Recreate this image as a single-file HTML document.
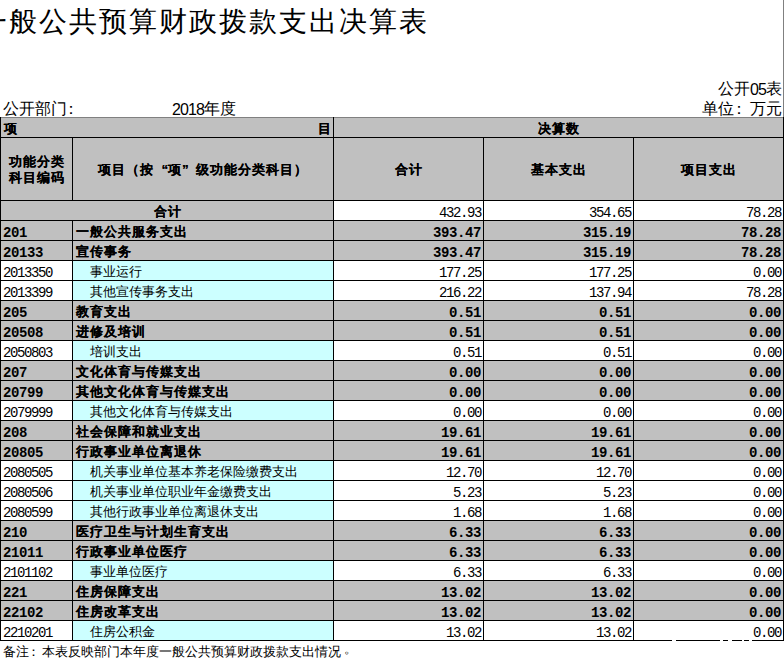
<!DOCTYPE html>
<html><head><meta charset="utf-8"><style>
html,body{margin:0;padding:0;background:#fff;}
body{width:784px;height:661px;position:relative;overflow:hidden;font-family:"Liberation Sans",sans-serif;color:#000}
.b{position:absolute}
.t{position:absolute;white-space:nowrap;overflow:visible}
.bh{font-size:13px;font-weight:bold;letter-spacing:1px;text-shadow:0.25px 0 0 #000}
.rh{font-size:13px}
.q1{display:inline-block;width:14px;text-align:right;letter-spacing:0}
.q2{display:inline-block;width:14px;text-align:left;letter-spacing:0}
.num,.cr{font-family:"Liberation Mono",monospace;font-size:14px;letter-spacing:-1.4px}
.numb,.cb{font-family:"Liberation Mono",monospace;font-size:14px;font-weight:bold;letter-spacing:-0.4px}
.title{position:absolute;left:-21px;top:4px;font-size:28px;letter-spacing:2px;line-height:36px;white-space:nowrap}
.d16{letter-spacing:-0.9px;position:relative;top:1px}
.c16{position:relative;left:-3px}
.h16{position:absolute;font-size:16px;line-height:18px;white-space:nowrap}
</style></head><body>
<div class="title">一般公共预算财政拨款支出决算表</div>
<div class="h16" style="right:2px;top:80px">公开<span class="d16">05</span>表</div>
<div class="h16" style="right:2px;top:100px">单位<span class="c16">：</span>万元</div>
<div class="h16" style="left:3px;top:100px">公开部门<span style="position:relative;left:-4px">：</span></div>
<div class="h16" style="left:172px;top:100px"><span class="d16">2018</span>年度</div>
<div class="b" style="left:0px;top:117px;width:784px;height:83px;background:#c0c0c0"></div>
<div class="b" style="left:0px;top:200px;width:333px;height:20px;background:#c0c0c0"></div>
<div class="b" style="left:0px;top:220px;width:784px;height:20px;background:#c0c0c0"></div>
<div class="b" style="left:0px;top:240px;width:784px;height:20px;background:#c0c0c0"></div>
<div class="b" style="left:72px;top:260px;width:261px;height:20px;background:#ccffff"></div>
<div class="b" style="left:72px;top:280px;width:261px;height:20px;background:#ccffff"></div>
<div class="b" style="left:0px;top:300px;width:784px;height:20px;background:#c0c0c0"></div>
<div class="b" style="left:0px;top:320px;width:784px;height:20px;background:#c0c0c0"></div>
<div class="b" style="left:72px;top:340px;width:261px;height:20px;background:#ccffff"></div>
<div class="b" style="left:0px;top:360px;width:784px;height:20px;background:#c0c0c0"></div>
<div class="b" style="left:0px;top:380px;width:784px;height:20px;background:#c0c0c0"></div>
<div class="b" style="left:72px;top:400px;width:261px;height:20px;background:#ccffff"></div>
<div class="b" style="left:0px;top:420px;width:784px;height:20px;background:#c0c0c0"></div>
<div class="b" style="left:0px;top:440px;width:784px;height:20px;background:#c0c0c0"></div>
<div class="b" style="left:72px;top:460px;width:261px;height:20px;background:#ccffff"></div>
<div class="b" style="left:72px;top:480px;width:261px;height:20px;background:#ccffff"></div>
<div class="b" style="left:72px;top:500px;width:261px;height:20px;background:#ccffff"></div>
<div class="b" style="left:0px;top:520px;width:784px;height:20px;background:#c0c0c0"></div>
<div class="b" style="left:0px;top:540px;width:784px;height:20px;background:#c0c0c0"></div>
<div class="b" style="left:72px;top:560px;width:261px;height:20px;background:#ccffff"></div>
<div class="b" style="left:0px;top:580px;width:784px;height:20px;background:#c0c0c0"></div>
<div class="b" style="left:0px;top:600px;width:784px;height:20px;background:#c0c0c0"></div>
<div class="b" style="left:72px;top:620px;width:261px;height:20px;background:#ccffff"></div>
<div class="b" style="left:0px;top:117px;width:784px;height:1px;background:#808080"></div>
<div class="b" style="left:783px;top:0px;width:1px;height:117px;background:#808080"></div>
<div class="b" style="left:0px;top:137px;width:784px;height:1px;background:#000"></div>
<div class="b" style="left:0px;top:200px;width:784px;height:1px;background:#000"></div>
<div class="b" style="left:0px;top:220px;width:784px;height:1px;background:#000"></div>
<div class="b" style="left:0px;top:240px;width:784px;height:1px;background:#000"></div>
<div class="b" style="left:0px;top:260px;width:784px;height:1px;background:#000"></div>
<div class="b" style="left:0px;top:280px;width:784px;height:1px;background:#000"></div>
<div class="b" style="left:0px;top:300px;width:784px;height:1px;background:#000"></div>
<div class="b" style="left:0px;top:320px;width:784px;height:1px;background:#000"></div>
<div class="b" style="left:0px;top:340px;width:784px;height:1px;background:#000"></div>
<div class="b" style="left:0px;top:360px;width:784px;height:1px;background:#000"></div>
<div class="b" style="left:0px;top:380px;width:784px;height:1px;background:#000"></div>
<div class="b" style="left:0px;top:400px;width:784px;height:1px;background:#000"></div>
<div class="b" style="left:0px;top:420px;width:784px;height:1px;background:#000"></div>
<div class="b" style="left:0px;top:440px;width:784px;height:1px;background:#000"></div>
<div class="b" style="left:0px;top:460px;width:784px;height:1px;background:#000"></div>
<div class="b" style="left:0px;top:480px;width:784px;height:1px;background:#000"></div>
<div class="b" style="left:0px;top:500px;width:784px;height:1px;background:#000"></div>
<div class="b" style="left:0px;top:520px;width:784px;height:1px;background:#000"></div>
<div class="b" style="left:0px;top:540px;width:784px;height:1px;background:#000"></div>
<div class="b" style="left:0px;top:560px;width:784px;height:1px;background:#000"></div>
<div class="b" style="left:0px;top:580px;width:784px;height:1px;background:#000"></div>
<div class="b" style="left:0px;top:600px;width:784px;height:1px;background:#000"></div>
<div class="b" style="left:0px;top:620px;width:784px;height:1px;background:#000"></div>
<div class="b" style="left:0px;top:640px;width:784px;height:1px;background:#000"></div>
<div class="b" style="left:0px;top:117px;width:1px;height:524px;background:#000"></div>
<div class="b" style="left:783px;top:117px;width:1px;height:524px;background:#000"></div>
<div class="b" style="left:333px;top:117px;width:1px;height:524px;background:#000"></div>
<div class="b" style="left:72px;top:137px;width:1px;height:63px;background:#000"></div>
<div class="b" style="left:72px;top:220px;width:1px;height:20px;background:#000"></div>
<div class="b" style="left:72px;top:240px;width:1px;height:20px;background:#000"></div>
<div class="b" style="left:72px;top:260px;width:1px;height:20px;background:#000"></div>
<div class="b" style="left:72px;top:280px;width:1px;height:20px;background:#000"></div>
<div class="b" style="left:72px;top:300px;width:1px;height:20px;background:#000"></div>
<div class="b" style="left:72px;top:320px;width:1px;height:20px;background:#000"></div>
<div class="b" style="left:72px;top:340px;width:1px;height:20px;background:#000"></div>
<div class="b" style="left:72px;top:360px;width:1px;height:20px;background:#000"></div>
<div class="b" style="left:72px;top:380px;width:1px;height:20px;background:#000"></div>
<div class="b" style="left:72px;top:400px;width:1px;height:20px;background:#000"></div>
<div class="b" style="left:72px;top:420px;width:1px;height:20px;background:#000"></div>
<div class="b" style="left:72px;top:440px;width:1px;height:20px;background:#000"></div>
<div class="b" style="left:72px;top:460px;width:1px;height:20px;background:#000"></div>
<div class="b" style="left:72px;top:480px;width:1px;height:20px;background:#000"></div>
<div class="b" style="left:72px;top:500px;width:1px;height:20px;background:#000"></div>
<div class="b" style="left:72px;top:520px;width:1px;height:20px;background:#000"></div>
<div class="b" style="left:72px;top:540px;width:1px;height:20px;background:#000"></div>
<div class="b" style="left:72px;top:560px;width:1px;height:20px;background:#000"></div>
<div class="b" style="left:72px;top:580px;width:1px;height:20px;background:#000"></div>
<div class="b" style="left:72px;top:600px;width:1px;height:20px;background:#000"></div>
<div class="b" style="left:72px;top:620px;width:1px;height:20px;background:#000"></div>
<div class="b" style="left:483px;top:137px;width:1px;height:504px;background:#000"></div>
<div class="b" style="left:633px;top:137px;width:1px;height:504px;background:#000"></div>
<div class="t bh" style="left:4px;top:119px;width:60px;height:19px;line-height:19px;text-align:left">项</div>
<div class="t bh" style="left:260px;top:119px;width:72px;height:19px;line-height:19px;text-align:right">目</div>
<div class="t bh" style="left:334px;top:119px;width:449px;height:19px;line-height:19px;text-align:center">决算数</div>
<div class="t bh" style="left:1px;top:154px;width:72px;line-height:16px;text-align:center">功能分类<br>科目编码</div>
<div class="t bh" style="left:73px;top:139px;width:260px;height:62px;line-height:62px;text-align:center">项目（按<span class="q1">“</span>项<span class="q2">”</span>级功能分类科目）</div>
<div class="t bh" style="left:334px;top:139px;width:149px;height:62px;line-height:62px;text-align:center">合计</div>
<div class="t bh" style="left:484px;top:139px;width:149px;height:62px;line-height:62px;text-align:center">基本支出</div>
<div class="t bh" style="left:634px;top:139px;width:149px;height:62px;line-height:62px;text-align:center">项目支出</div>
<div class="t bh" style="left:1px;top:202px;width:333px;height:19px;line-height:19px;text-align:center">合计</div>
<div class="t num" style="left:334px;top:204px;width:147px;height:19px;line-height:19px;text-align:right">432.93</div>
<div class="t num" style="left:484px;top:204px;width:147px;height:19px;line-height:19px;text-align:right">354.65</div>
<div class="t num" style="left:634px;top:204px;width:147px;height:19px;line-height:19px;text-align:right">78.28</div>
<div class="t cb" style="left:3px;top:224px;width:69px;height:19px;line-height:19px;text-align:left">201</div>
<div class="t bh" style="left:76px;top:222px;width:257px;height:19px;line-height:19px;text-align:left">一般公共服务支出</div>
<div class="t numb" style="left:334px;top:224px;width:147px;height:19px;line-height:19px;text-align:right">393.47</div>
<div class="t numb" style="left:484px;top:224px;width:147px;height:19px;line-height:19px;text-align:right">315.19</div>
<div class="t numb" style="left:634px;top:224px;width:147px;height:19px;line-height:19px;text-align:right">78.28</div>
<div class="t cb" style="left:3px;top:244px;width:69px;height:19px;line-height:19px;text-align:left">20133</div>
<div class="t bh" style="left:76px;top:242px;width:257px;height:19px;line-height:19px;text-align:left">宣传事务</div>
<div class="t numb" style="left:334px;top:244px;width:147px;height:19px;line-height:19px;text-align:right">393.47</div>
<div class="t numb" style="left:484px;top:244px;width:147px;height:19px;line-height:19px;text-align:right">315.19</div>
<div class="t numb" style="left:634px;top:244px;width:147px;height:19px;line-height:19px;text-align:right">78.28</div>
<div class="t cr" style="left:3px;top:264px;width:69px;height:19px;line-height:19px;text-align:left">2013350</div>
<div class="t rh" style="left:77px;top:262px;width:257px;height:19px;line-height:19px;text-align:left">　事业运行</div>
<div class="t num" style="left:334px;top:264px;width:147px;height:19px;line-height:19px;text-align:right">177.25</div>
<div class="t num" style="left:484px;top:264px;width:147px;height:19px;line-height:19px;text-align:right">177.25</div>
<div class="t num" style="left:634px;top:264px;width:147px;height:19px;line-height:19px;text-align:right">0.00</div>
<div class="t cr" style="left:3px;top:284px;width:69px;height:19px;line-height:19px;text-align:left">2013399</div>
<div class="t rh" style="left:77px;top:282px;width:257px;height:19px;line-height:19px;text-align:left">　其他宣传事务支出</div>
<div class="t num" style="left:334px;top:284px;width:147px;height:19px;line-height:19px;text-align:right">216.22</div>
<div class="t num" style="left:484px;top:284px;width:147px;height:19px;line-height:19px;text-align:right">137.94</div>
<div class="t num" style="left:634px;top:284px;width:147px;height:19px;line-height:19px;text-align:right">78.28</div>
<div class="t cb" style="left:3px;top:304px;width:69px;height:19px;line-height:19px;text-align:left">205</div>
<div class="t bh" style="left:76px;top:302px;width:257px;height:19px;line-height:19px;text-align:left">教育支出</div>
<div class="t numb" style="left:334px;top:304px;width:147px;height:19px;line-height:19px;text-align:right">0.51</div>
<div class="t numb" style="left:484px;top:304px;width:147px;height:19px;line-height:19px;text-align:right">0.51</div>
<div class="t numb" style="left:634px;top:304px;width:147px;height:19px;line-height:19px;text-align:right">0.00</div>
<div class="t cb" style="left:3px;top:324px;width:69px;height:19px;line-height:19px;text-align:left">20508</div>
<div class="t bh" style="left:76px;top:322px;width:257px;height:19px;line-height:19px;text-align:left">进修及培训</div>
<div class="t numb" style="left:334px;top:324px;width:147px;height:19px;line-height:19px;text-align:right">0.51</div>
<div class="t numb" style="left:484px;top:324px;width:147px;height:19px;line-height:19px;text-align:right">0.51</div>
<div class="t numb" style="left:634px;top:324px;width:147px;height:19px;line-height:19px;text-align:right">0.00</div>
<div class="t cr" style="left:3px;top:344px;width:69px;height:19px;line-height:19px;text-align:left">2050803</div>
<div class="t rh" style="left:77px;top:342px;width:257px;height:19px;line-height:19px;text-align:left">　培训支出</div>
<div class="t num" style="left:334px;top:344px;width:147px;height:19px;line-height:19px;text-align:right">0.51</div>
<div class="t num" style="left:484px;top:344px;width:147px;height:19px;line-height:19px;text-align:right">0.51</div>
<div class="t num" style="left:634px;top:344px;width:147px;height:19px;line-height:19px;text-align:right">0.00</div>
<div class="t cb" style="left:3px;top:364px;width:69px;height:19px;line-height:19px;text-align:left">207</div>
<div class="t bh" style="left:76px;top:362px;width:257px;height:19px;line-height:19px;text-align:left">文化体育与传媒支出</div>
<div class="t numb" style="left:334px;top:364px;width:147px;height:19px;line-height:19px;text-align:right">0.00</div>
<div class="t numb" style="left:484px;top:364px;width:147px;height:19px;line-height:19px;text-align:right">0.00</div>
<div class="t numb" style="left:634px;top:364px;width:147px;height:19px;line-height:19px;text-align:right">0.00</div>
<div class="t cb" style="left:3px;top:384px;width:69px;height:19px;line-height:19px;text-align:left">20799</div>
<div class="t bh" style="left:76px;top:382px;width:257px;height:19px;line-height:19px;text-align:left">其他文化体育与传媒支出</div>
<div class="t numb" style="left:334px;top:384px;width:147px;height:19px;line-height:19px;text-align:right">0.00</div>
<div class="t numb" style="left:484px;top:384px;width:147px;height:19px;line-height:19px;text-align:right">0.00</div>
<div class="t numb" style="left:634px;top:384px;width:147px;height:19px;line-height:19px;text-align:right">0.00</div>
<div class="t cr" style="left:3px;top:404px;width:69px;height:19px;line-height:19px;text-align:left">2079999</div>
<div class="t rh" style="left:77px;top:402px;width:257px;height:19px;line-height:19px;text-align:left">　其他文化体育与传媒支出</div>
<div class="t num" style="left:334px;top:404px;width:147px;height:19px;line-height:19px;text-align:right">0.00</div>
<div class="t num" style="left:484px;top:404px;width:147px;height:19px;line-height:19px;text-align:right">0.00</div>
<div class="t num" style="left:634px;top:404px;width:147px;height:19px;line-height:19px;text-align:right">0.00</div>
<div class="t cb" style="left:3px;top:424px;width:69px;height:19px;line-height:19px;text-align:left">208</div>
<div class="t bh" style="left:76px;top:422px;width:257px;height:19px;line-height:19px;text-align:left">社会保障和就业支出</div>
<div class="t numb" style="left:334px;top:424px;width:147px;height:19px;line-height:19px;text-align:right">19.61</div>
<div class="t numb" style="left:484px;top:424px;width:147px;height:19px;line-height:19px;text-align:right">19.61</div>
<div class="t numb" style="left:634px;top:424px;width:147px;height:19px;line-height:19px;text-align:right">0.00</div>
<div class="t cb" style="left:3px;top:444px;width:69px;height:19px;line-height:19px;text-align:left">20805</div>
<div class="t bh" style="left:76px;top:442px;width:257px;height:19px;line-height:19px;text-align:left">行政事业单位离退休</div>
<div class="t numb" style="left:334px;top:444px;width:147px;height:19px;line-height:19px;text-align:right">19.61</div>
<div class="t numb" style="left:484px;top:444px;width:147px;height:19px;line-height:19px;text-align:right">19.61</div>
<div class="t numb" style="left:634px;top:444px;width:147px;height:19px;line-height:19px;text-align:right">0.00</div>
<div class="t cr" style="left:3px;top:464px;width:69px;height:19px;line-height:19px;text-align:left">2080505</div>
<div class="t rh" style="left:77px;top:462px;width:257px;height:19px;line-height:19px;text-align:left">　机关事业单位基本养老保险缴费支出</div>
<div class="t num" style="left:334px;top:464px;width:147px;height:19px;line-height:19px;text-align:right">12.70</div>
<div class="t num" style="left:484px;top:464px;width:147px;height:19px;line-height:19px;text-align:right">12.70</div>
<div class="t num" style="left:634px;top:464px;width:147px;height:19px;line-height:19px;text-align:right">0.00</div>
<div class="t cr" style="left:3px;top:484px;width:69px;height:19px;line-height:19px;text-align:left">2080506</div>
<div class="t rh" style="left:77px;top:482px;width:257px;height:19px;line-height:19px;text-align:left">　机关事业单位职业年金缴费支出</div>
<div class="t num" style="left:334px;top:484px;width:147px;height:19px;line-height:19px;text-align:right">5.23</div>
<div class="t num" style="left:484px;top:484px;width:147px;height:19px;line-height:19px;text-align:right">5.23</div>
<div class="t num" style="left:634px;top:484px;width:147px;height:19px;line-height:19px;text-align:right">0.00</div>
<div class="t cr" style="left:3px;top:504px;width:69px;height:19px;line-height:19px;text-align:left">2080599</div>
<div class="t rh" style="left:77px;top:502px;width:257px;height:19px;line-height:19px;text-align:left">　其他行政事业单位离退休支出</div>
<div class="t num" style="left:334px;top:504px;width:147px;height:19px;line-height:19px;text-align:right">1.68</div>
<div class="t num" style="left:484px;top:504px;width:147px;height:19px;line-height:19px;text-align:right">1.68</div>
<div class="t num" style="left:634px;top:504px;width:147px;height:19px;line-height:19px;text-align:right">0.00</div>
<div class="t cb" style="left:3px;top:524px;width:69px;height:19px;line-height:19px;text-align:left">210</div>
<div class="t bh" style="left:76px;top:522px;width:257px;height:19px;line-height:19px;text-align:left">医疗卫生与计划生育支出</div>
<div class="t numb" style="left:334px;top:524px;width:147px;height:19px;line-height:19px;text-align:right">6.33</div>
<div class="t numb" style="left:484px;top:524px;width:147px;height:19px;line-height:19px;text-align:right">6.33</div>
<div class="t numb" style="left:634px;top:524px;width:147px;height:19px;line-height:19px;text-align:right">0.00</div>
<div class="t cb" style="left:3px;top:544px;width:69px;height:19px;line-height:19px;text-align:left">21011</div>
<div class="t bh" style="left:76px;top:542px;width:257px;height:19px;line-height:19px;text-align:left">行政事业单位医疗</div>
<div class="t numb" style="left:334px;top:544px;width:147px;height:19px;line-height:19px;text-align:right">6.33</div>
<div class="t numb" style="left:484px;top:544px;width:147px;height:19px;line-height:19px;text-align:right">6.33</div>
<div class="t numb" style="left:634px;top:544px;width:147px;height:19px;line-height:19px;text-align:right">0.00</div>
<div class="t cr" style="left:3px;top:564px;width:69px;height:19px;line-height:19px;text-align:left">2101102</div>
<div class="t rh" style="left:77px;top:562px;width:257px;height:19px;line-height:19px;text-align:left">　事业单位医疗</div>
<div class="t num" style="left:334px;top:564px;width:147px;height:19px;line-height:19px;text-align:right">6.33</div>
<div class="t num" style="left:484px;top:564px;width:147px;height:19px;line-height:19px;text-align:right">6.33</div>
<div class="t num" style="left:634px;top:564px;width:147px;height:19px;line-height:19px;text-align:right">0.00</div>
<div class="t cb" style="left:3px;top:584px;width:69px;height:19px;line-height:19px;text-align:left">221</div>
<div class="t bh" style="left:76px;top:582px;width:257px;height:19px;line-height:19px;text-align:left">住房保障支出</div>
<div class="t numb" style="left:334px;top:584px;width:147px;height:19px;line-height:19px;text-align:right">13.02</div>
<div class="t numb" style="left:484px;top:584px;width:147px;height:19px;line-height:19px;text-align:right">13.02</div>
<div class="t numb" style="left:634px;top:584px;width:147px;height:19px;line-height:19px;text-align:right">0.00</div>
<div class="t cb" style="left:3px;top:604px;width:69px;height:19px;line-height:19px;text-align:left">22102</div>
<div class="t bh" style="left:76px;top:602px;width:257px;height:19px;line-height:19px;text-align:left">住房改革支出</div>
<div class="t numb" style="left:334px;top:604px;width:147px;height:19px;line-height:19px;text-align:right">13.02</div>
<div class="t numb" style="left:484px;top:604px;width:147px;height:19px;line-height:19px;text-align:right">13.02</div>
<div class="t numb" style="left:634px;top:604px;width:147px;height:19px;line-height:19px;text-align:right">0.00</div>
<div class="t cr" style="left:3px;top:624px;width:69px;height:19px;line-height:19px;text-align:left">2210201</div>
<div class="t rh" style="left:77px;top:622px;width:257px;height:19px;line-height:19px;text-align:left">　住房公积金</div>
<div class="t num" style="left:334px;top:624px;width:147px;height:19px;line-height:19px;text-align:right">13.02</div>
<div class="t num" style="left:484px;top:624px;width:147px;height:19px;line-height:19px;text-align:right">13.02</div>
<div class="t num" style="left:634px;top:624px;width:147px;height:19px;line-height:19px;text-align:right">0.00</div>
<div class="b" style="left:672px;top:640px;width:4px;height:1px;background:#fff"></div>
<div class="b" style="left:720px;top:640px;width:3px;height:1px;background:#fff"></div>
<div class="b" style="left:728px;top:640px;width:4px;height:1px;background:#fff"></div>
<div class="b" style="left:742px;top:640px;width:2px;height:1px;background:#fff"></div>
<div class="b" style="left:749px;top:640px;width:3px;height:1px;background:#fff"></div>
<div class="t rh" style="left:3px;top:643px;line-height:18px">备注<span style="position:relative;left:-2px">：</span>本表反映部门本年度一般公共预算财政拨款支出情况<span style="position:relative;left:3px;top:-3px">。</span></div>
</body></html>
